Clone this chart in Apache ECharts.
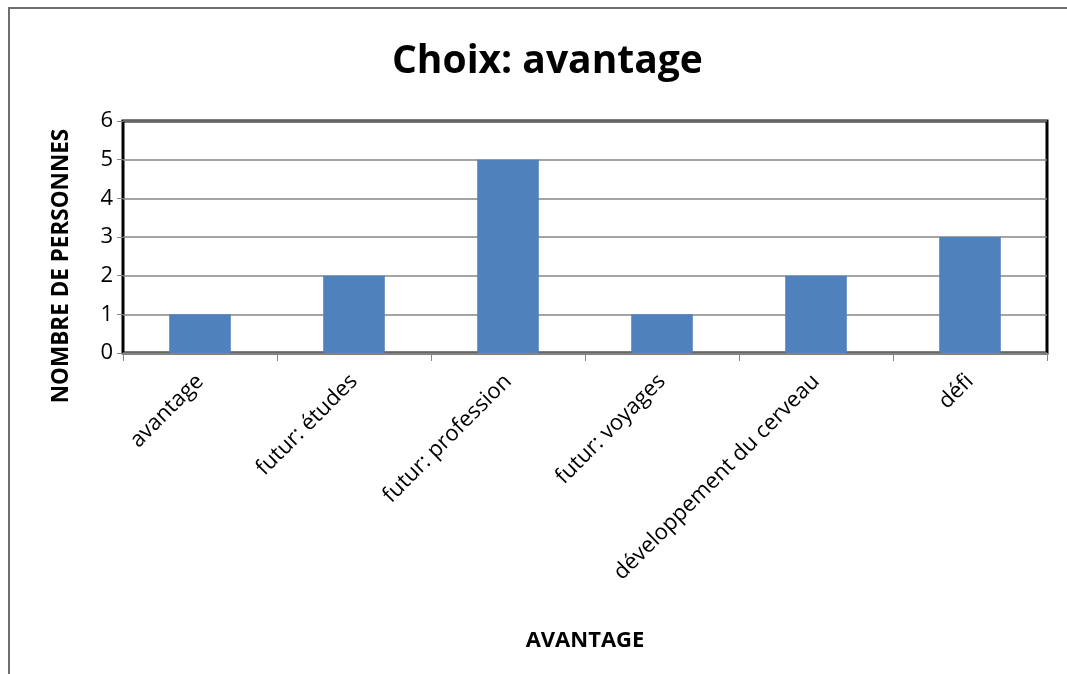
<!DOCTYPE html>
<html>
<head>
<meta charset="utf-8">
<script src="https://cdn.jsdelivr.net/npm/echarts@6/dist/echarts.min.js"></script>
<style>
  html, body { margin: 0; padding: 0; background: #fff; }
  #chart { width: 1067px; height: 674px; }
</style>
</head>
<body>
<div id="chart"></div>
<script>
// Category labels and counts per reason
const categories = ['avantage', 'futur: études', 'futur: profession', 'futur: voyages', 'développement du cerveau', 'défi'];
const counts = [1, 2, 5, 1, 2, 3];
const yTicks = [0, 1, 2, 3, 4, 5, 6];

const FONT = '"Open Sans", "Noto Sans", sans-serif';
const chart = echarts.init(document.getElementById('chart'));

chart.setOption({
  backgroundColor: '#ffffff',
  animation: false,
  title: {
    text: 'Choix: avantage',
    left: 387,
    top: 37,
    textStyle: { fontFamily: FONT, fontWeight: 'bold', fontSize: 39, color: '#000' }
  },
  grid: {
    left: 123, top: 121, right: 20, bottom: 321,
    show: true, borderColor: '#000', borderWidth: 3, backgroundColor: 'transparent'
  },
  xAxis: {
    type: 'category',
    data: categories,
    name: 'AVANTAGE',
    nameLocation: 'middle',
    nameGap: 277,
    nameTextStyle: { fontFamily: FONT, fontWeight: 'bold', fontSize: 22, color: '#000' },
    axisLine: { show: true, lineStyle: { color: '#868686', width: 1 } },
    axisTick: { show: true, alignWithLabel: false, length: 8, lineStyle: { color: '#868686' } },
    axisLabel: { rotate: 45, fontFamily: FONT, fontSize: 22, color: '#000', margin: 25, interval: 0 }
  },
  yAxis: {
    type: 'value',
    min: yTicks[0],
    max: yTicks[yTicks.length - 1],
    interval: 1,
    axisLine: { show: false },
    axisTick: { show: true, length: 6, lineStyle: { color: '#868686' } },
    splitLine: { lineStyle: { color: '#868686', width: 1.5 } },
    axisLabel: { fontFamily: FONT, fontSize: 22, color: '#000', margin: 10 }
  },
  series: [{
    type: 'bar',
    data: counts,
    barWidth: '40%',
    itemStyle: { color: '#4F81BD' }
  }],
  graphic: [
    {
      type: 'text',
      x: 62, y: 266,
      rotation: Math.PI / 2,
      style: {
        text: 'NOMBRE DE PERSONNES',
        fontFamily: FONT, fontWeight: 'bold', fontSize: 22.5, fill: '#000',
        align: 'center', verticalAlign: 'middle'
      }
    },
    {
      type: 'polyline',
      shape: { points: [[9, 674], [9, 8], [1067, 8]] },
      style: { stroke: '#6f6f6f', lineWidth: 2, fill: null }
    }
  ]
});
</script>
</body>
</html>
